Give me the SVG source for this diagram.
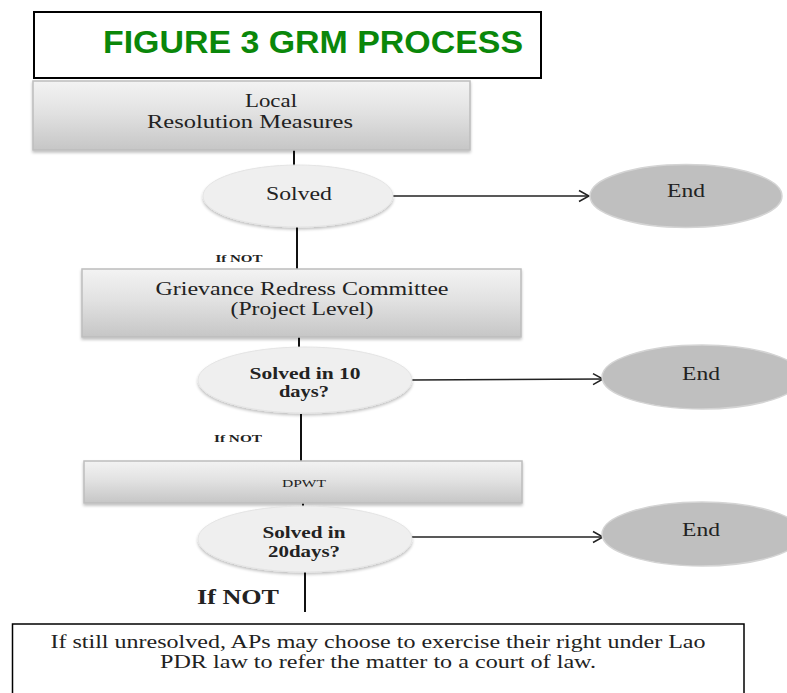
<svg xmlns="http://www.w3.org/2000/svg" width="787" height="693" viewBox="0 0 787 693">
<defs>
<linearGradient id="boxg" x1="0" y1="0" x2="0" y2="1">
<stop offset="0" stop-color="#f3f3f3"/>
<stop offset="0.45" stop-color="#e2e2e2"/>
<stop offset="1" stop-color="#c6c6c6"/>
</linearGradient>
<filter id="sh" x="-10%" y="-10%" width="120%" height="130%">
<feGaussianBlur in="SourceAlpha" stdDeviation="1.5"/>
<feOffset dy="2" result="b"/>
<feComponentTransfer><feFuncA type="linear" slope="0.25"/></feComponentTransfer>
<feMerge><feMergeNode/><feMergeNode in="SourceGraphic"/></feMerge>
</filter>
<marker id="arr" markerWidth="14" markerHeight="14" refX="12" refY="7" orient="auto" markerUnits="userSpaceOnUse">
<path d="M2,1.5 L12,7 L2,12.5" fill="none" stroke="#222" stroke-width="1.5"/>
</marker>
</defs>
<style>
.box{fill:url(#boxg);stroke:#bdbdbd;stroke-width:1.5}
.light{fill:#efefef;stroke:#e4e4e4;stroke-width:1}
.dark{fill:#bfbfbf;stroke:#d4d4d4;stroke-width:1.5}
.t{font-family:"Liberation Serif","Times New Roman",serif;fill:#222;text-anchor:middle}
.b{font-weight:bold}
.ln{stroke:#111;stroke-width:2;fill:none}
.ar{stroke:#222;stroke-width:1.5;fill:none}
</style>
<rect width="787" height="693" fill="#fff"/>

<g id="title">
<rect x="34" y="12" width="507" height="66" fill="#fff" stroke="#000" stroke-width="2"/>
<text x="103" y="53" font-family="Liberation Sans, Arial, sans-serif" font-weight="bold" font-size="32" fill="#0a870a" textLength="420" lengthAdjust="spacingAndGlyphs">FIGURE 3 GRM PROCESS</text>
</g>

<g id="connectors">
<line class="ln" x1="294" y1="150" x2="294" y2="166"/>
<line class="ln" x1="297" y1="227" x2="297" y2="269"/>
<line class="ln" x1="299" y1="337" x2="299" y2="347"/>
<line class="ln" x1="301" y1="414" x2="301" y2="461"/>
<line class="ln" x1="303" y1="503" x2="303" y2="507"/>
<line class="ln" x1="305" y1="572" x2="305" y2="612"/>
<line class="ar" x1="393" y1="196" x2="589" y2="196" marker-end="url(#arr)"/>
<line class="ar" x1="411" y1="380" x2="603" y2="379" marker-end="url(#arr)"/>
<line class="ar" x1="411" y1="537" x2="603" y2="537" marker-end="url(#arr)"/>
<text class="t b" x="239" y="262" font-size="11" textLength="47" lengthAdjust="spacingAndGlyphs">If NOT</text>
<text class="t b" x="238" y="442" font-size="11" textLength="48" lengthAdjust="spacingAndGlyphs">If NOT</text>
<text class="t b" x="238" y="604" font-size="20" textLength="82" lengthAdjust="spacingAndGlyphs">If NOT</text>
</g>

<g id="local">
<rect class="box" x="33" y="81" width="437" height="69" filter="url(#sh)"/>
<text class="t" x="271" y="107" font-size="19" textLength="52" lengthAdjust="spacingAndGlyphs">Local</text>
<text class="t" x="250" y="128" font-size="19" textLength="206" lengthAdjust="spacingAndGlyphs">Resolution Measures</text>
</g>

<g id="solved1">
<ellipse class="light" cx="298" cy="196" rx="95" ry="31" filter="url(#sh)"/>
<text class="t" x="299" y="200" font-size="19" textLength="66" lengthAdjust="spacingAndGlyphs">Solved</text>
</g>

<g id="end1">
<ellipse class="dark" cx="686" cy="196" rx="96" ry="31.5"/>
<text class="t" x="686" y="197" font-size="19" textLength="38" lengthAdjust="spacingAndGlyphs">End</text>
</g>

<g id="grc">
<rect class="box" x="82" y="269" width="439" height="68" filter="url(#sh)"/>
<text class="t" x="302" y="295" font-size="19" textLength="293" lengthAdjust="spacingAndGlyphs">Grievance Redress Committee</text>
<text class="t" x="302" y="315" font-size="19" textLength="143" lengthAdjust="spacingAndGlyphs">(Project Level)</text>
</g>

<g id="solved10">
<ellipse class="light" cx="305" cy="380" rx="107" ry="33" filter="url(#sh)"/>
<text class="t b" x="305" y="379" font-size="17" textLength="111" lengthAdjust="spacingAndGlyphs">Solved in 10</text>
<text class="t b" x="304" y="397" font-size="17" textLength="50" lengthAdjust="spacingAndGlyphs">days?</text>
</g>

<g id="end2">
<ellipse class="dark" cx="702" cy="377" rx="100" ry="32"/>
<text class="t" x="701" y="380" font-size="19" textLength="38" lengthAdjust="spacingAndGlyphs">End</text>
</g>

<g id="dpwt">
<rect class="box" x="84" y="461" width="438" height="42" filter="url(#sh)"/>
<text class="t" x="304" y="487" font-size="11" textLength="44" lengthAdjust="spacingAndGlyphs">DPWT</text>
</g>

<g id="solved20">
<ellipse class="light" cx="305" cy="539" rx="107" ry="33" filter="url(#sh)"/>
<text class="t b" x="304" y="538" font-size="17" textLength="83" lengthAdjust="spacingAndGlyphs">Solved in</text>
<text class="t b" x="304" y="557" font-size="17" textLength="72" lengthAdjust="spacingAndGlyphs">20days?</text>
</g>

<g id="end3">
<ellipse class="dark" cx="702" cy="534" rx="100" ry="32"/>
<text class="t" x="701" y="536" font-size="19" textLength="38" lengthAdjust="spacingAndGlyphs">End</text>
</g>

<g id="court">
<rect x="12.5" y="624" width="731.5" height="80" fill="#fff" stroke="#000" stroke-width="1.5"/>
<text class="t" x="378" y="648" font-size="18" textLength="655" lengthAdjust="spacingAndGlyphs">If still unresolved, APs may choose to exercise their right under Lao</text>
<text class="t" x="378" y="668" font-size="18" textLength="436" lengthAdjust="spacingAndGlyphs">PDR law to refer the matter to a court of law.</text>
</g>
</svg>
